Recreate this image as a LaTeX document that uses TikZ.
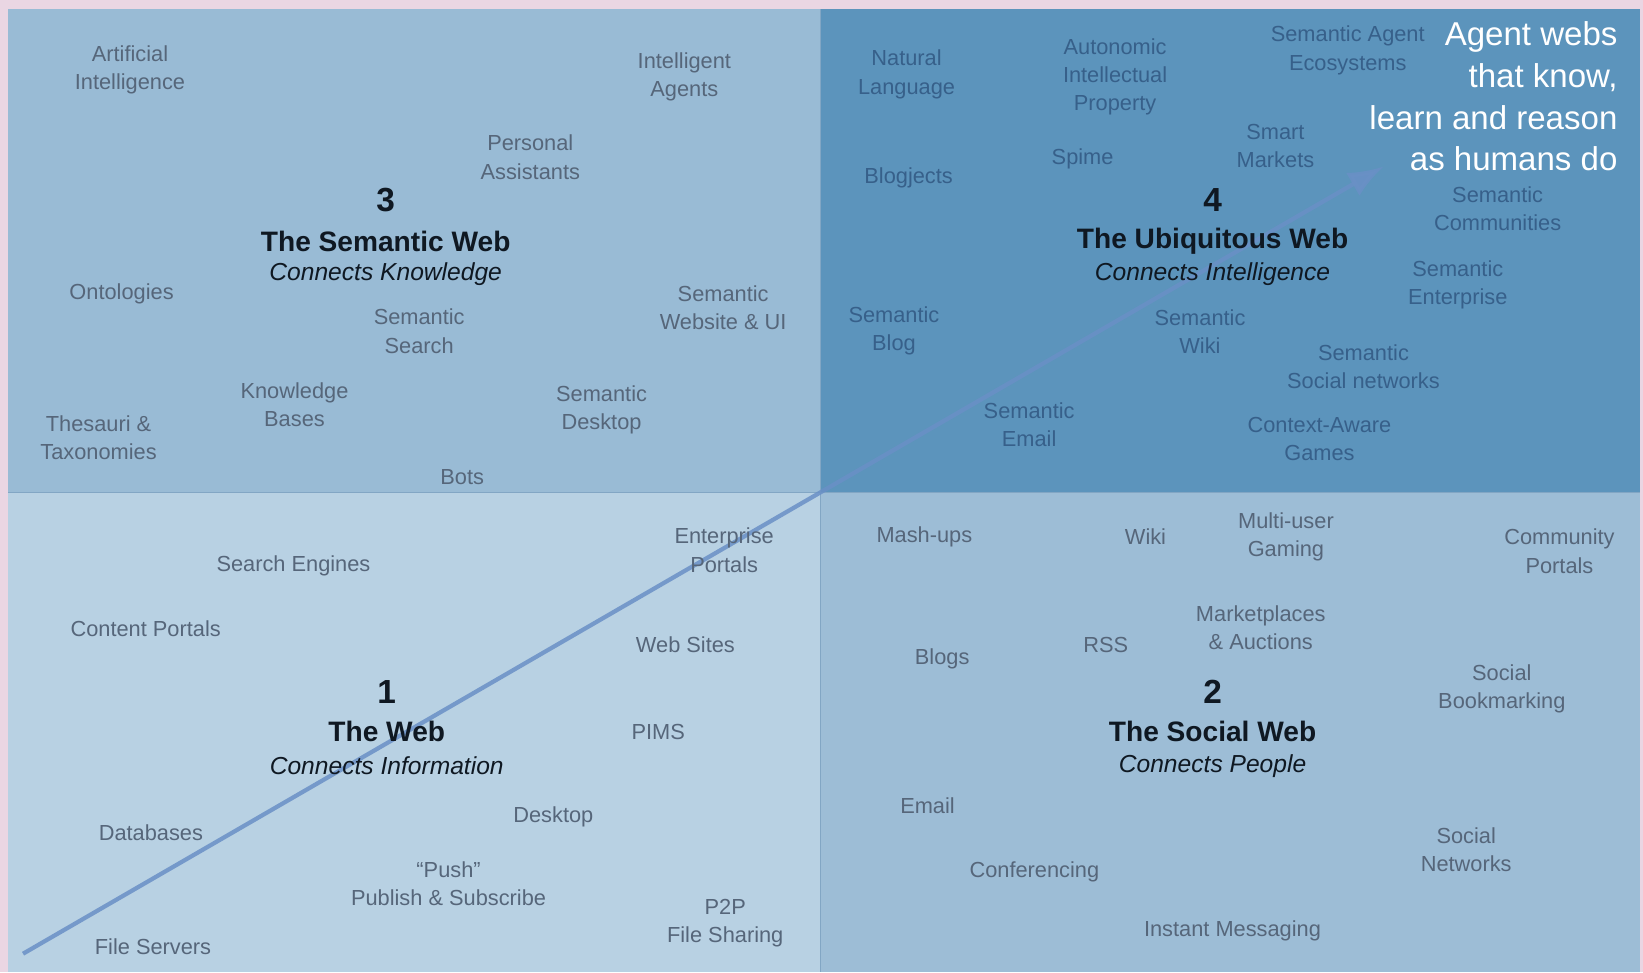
\documentclass[tikz,border=0pt]{standalone}
\usepackage{fontspec}
\setmainfont{Liberation Sans}
\usetikzlibrary{arrows.meta}
\definecolor{frame}{HTML}{EAD6E3}
\definecolor{webone}{HTML}{B8D1E3}
\definecolor{webtwo}{HTML}{9DBDD6}
\definecolor{webthree}{HTML}{99BBD5}
\definecolor{webfour}{HTML}{5C94BC}
\definecolor{edge}{HTML}{82A6C4}
\definecolor{itemgray}{HTML}{56667A}
\definecolor{itemblue}{HTML}{37608A}
\definecolor{headtext}{HTML}{0F1822}
\definecolor{trend}{HTML}{6A90C6}
\begin{document}
\begin{tikzpicture}[x=0.10478mm,y=-0.10478mm,
  lbl/.style={align=center,inner sep=0pt,text=itemgray,font=\fontsize{6.2}{8}\selectfont},
  lbldark/.style={lbl,text=itemblue},
  num/.style={inner sep=0pt,text=headtext,font=\fontsize{9.5}{11}\selectfont\bfseries},
  ttl/.style={inner sep=0pt,text=headtext,font=\fontsize{8}{10}\selectfont\bfseries},
  sub/.style={inner sep=0pt,text=headtext,font=\fontsize{7}{9}\selectfont\itshape},
  note/.style={align=right,inner sep=0pt,text=white,font=\fontsize{9.4}{11.9}\selectfont},
  divider/.style={draw=edge,line width=0.5pt},
  trendline/.style={draw=trend,opacity=0.85,line width=1.2pt,-{Latex[length=10pt,width=7.5pt]}}]
\useasboundingbox (0,0) rectangle (1567.7,927.5);
\fill[frame] (0,0) rectangle (1567.7,927.5);
\fill[webthree] (8,9) rectangle (783,470);
\fill[webfour] (783,9) rectangle (1565,470);
\fill[webone] (8,470) rectangle (783,927.5);
\fill[webtwo] (783,470) rectangle (1565,927.5);
\draw[divider] (783,9) -- (783,927.5);
\draw[divider] (8,470) -- (1565,470);

\coordinate (start) at (22,910);
\coordinate (goal) at (1320,159);
\draw[trendline] (start) -- (goal);

\node[lbl] (ai) at (124,67) {Artificial\\Intelligence};
\node[lbl] (ia) at (653,73) {Intelligent\\Agents};
\node[lbl] (pa) at (506,150) {Personal\\Assistants};
\node[lbl] (ont) at (116,280) {Ontologies};
\node[lbl] (ss) at (400,316) {Semantic\\Search};
\node[lbl] (sw) at (690,294) {Semantic\\Website \& UI};
\node[lbl] (kb) at (281,386) {Knowledge\\Bases};
\node[lbl] (tt) at (94,418) {Thesauri \&\\Taxonomies};
\node[lbl] (sd) at (574,391) {Semantic\\Desktop};
\node[lbl] (bots) at (441,455) {Bots};
\node[num] (n3) at (368,191) {3};
\node[ttl] (t3) at (368,230) {The Semantic Web};
\node[sub] (s3) at (368,262) {Connects Knowledge};

\node[lbldark] (nl) at (865,71) {Natural\\Language};
\node[lbldark] (aip) at (1064,73) {Autonomic\\Intellectual\\Property};
\node[lbldark] (sae) at (1286,48) {Semantic Agent\\Ecosystems};
\node[lbldark] (sm) at (1217,139) {Smart\\Markets};
\node[lbldark] (spime) at (1033,152) {Spime};
\node[lbldark] (bj) at (867,170) {Blogjects};
\node[lbldark] (sc) at (1429,199) {Semantic\\Communities};
\node[lbldark] (se) at (1391,272) {Semantic\\Enterprise};
\node[lbldark] (sb) at (853,316) {Semantic\\Blog};
\node[lbldark] (swk) at (1145,316) {Semantic\\Wiki};
\node[lbldark] (ssn) at (1301,350) {Semantic\\Social networks};
\node[lbldark] (sem) at (982,405) {Semantic\\Email};
\node[lbldark] (cag) at (1259,419) {Context-Aware\\Games};
\node[num] (n4) at (1157,191) {4};
\node[ttl] (t4) at (1157,230) {The Ubiquitous Web};
\node[sub] (s4) at (1157,262) {Connects Intelligence};
\node[note,anchor=east] (aw) at (1544,92) {Agent webs\\that know,\\learn and reason\\as humans do};

\node[lbl] (ep) at (691,525) {Enterprise\\Portals};
\node[lbl] (seng) at (280,540) {Search Engines};
\node[lbl] (cp) at (139,600) {Content Portals};
\node[lbl] (ws) at (654,615) {Web Sites};
\node[lbl] (pims) at (628,698) {PIMS};
\node[lbl] (dt) at (528,779) {Desktop};
\node[lbl] (db) at (144,795) {Databases};
\node[lbl] (push) at (428,843) {“Push”\\Publish \& Subscribe};
\node[lbl] (p2p) at (692,881) {P2P\\File Sharing};
\node[lbl] (fs) at (146,903) {File Servers};
\node[num] (n1) at (369,660) {1};
\node[ttl] (t1) at (369,698) {The Web};
\node[sub] (s1) at (369,731) {Connects Information};

\node[lbl] (mu) at (882,512) {Mash-ups};
\node[lbl] (wiki) at (1093,512) {Wiki};
\node[lbl] (mug) at (1227,512) {Multi-user\\Gaming};
\node[lbl] (cmp) at (1488,526) {Community\\Portals};
\node[lbl] (ma) at (1203,599) {Marketplaces\\\& Auctions};
\node[lbl] (rss) at (1055,615) {RSS};
\node[lbl] (blogs) at (899,629) {Blogs};
\node[lbl] (sbm) at (1433,657) {Social\\Bookmarking};
\node[lbl] (email) at (885,769) {Email};
\node[lbl] (sn) at (1399,811) {Social\\Networks};
\node[lbl] (conf) at (987,832) {Conferencing};
\node[lbl] (im) at (1176,888) {Instant Messaging};
\node[num] (n2) at (1157,660) {2};
\node[ttl] (t2) at (1157,698) {The Social Web};
\node[sub] (s2) at (1157,731) {Connects People};
\end{tikzpicture}
\end{document}
